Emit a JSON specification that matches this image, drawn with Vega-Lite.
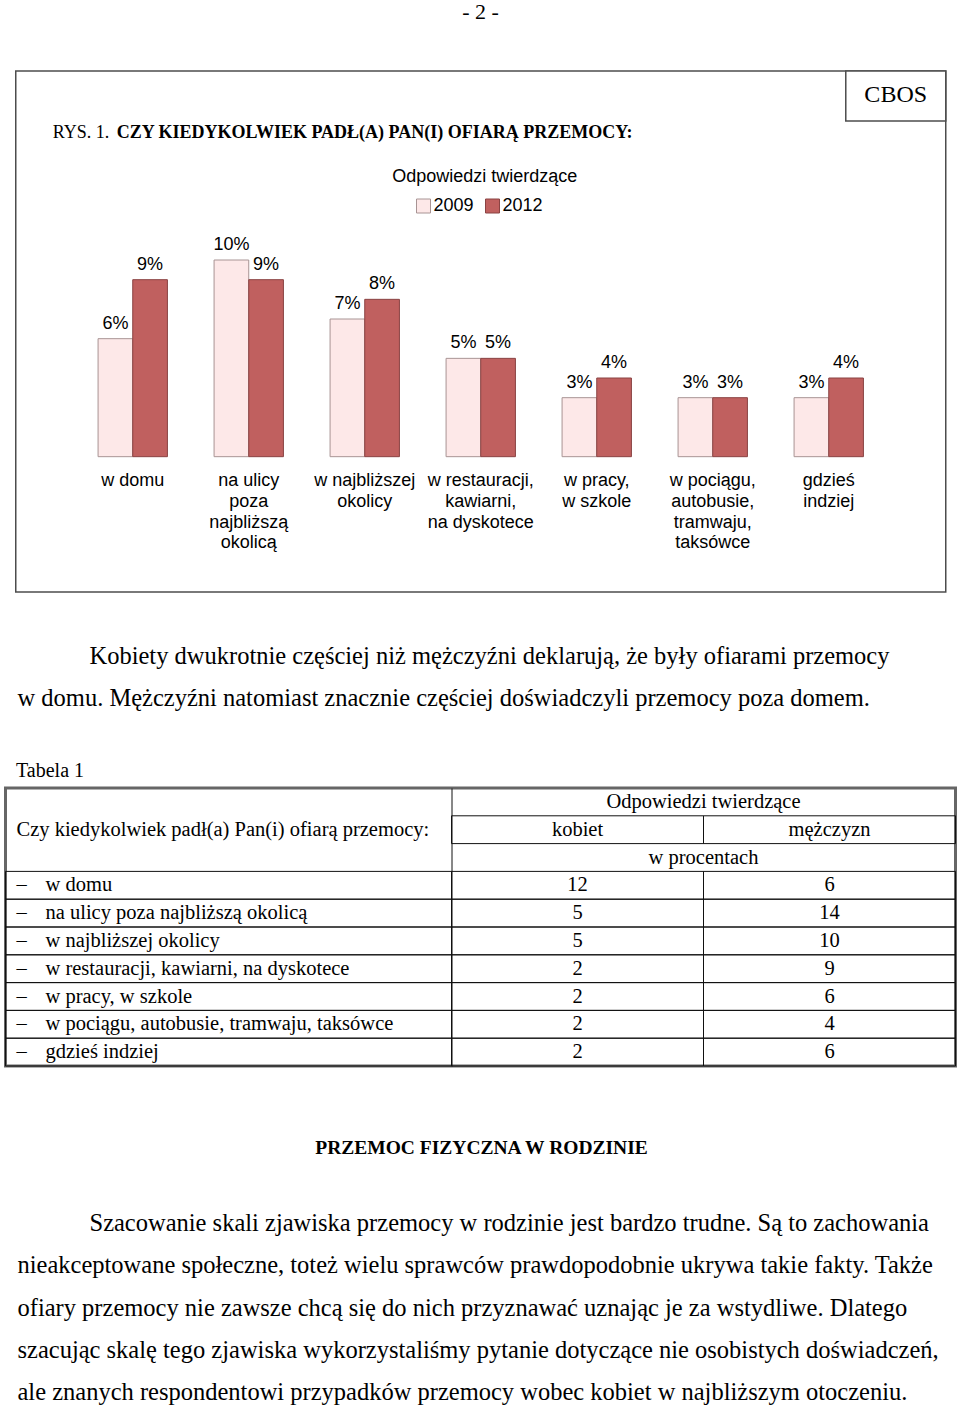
{
  "$schema": "https://vega.github.io/schema/vega-lite/v6.json",
  "background": "white",
  "padding": {"left": 3.5, "right": 3.5, "top": 0, "bottom": 0},
  "spacing": 0,
  "center": true,
  "title": {"text": "- 2 -", "font": "Liberation Serif", "fontSize": 22, "fontWeight": "normal", "anchor": "middle", "baseline": "top", "offset": 46, "color": "black"},
  "config": {
    "view": {"stroke": null},
    "text": {"color": "black"},
    "axis": {"labelColor": "black", "titleColor": "black"},
    "legend": {"labelColor": "black"},
    "title": {"color": "black"}
  },
  "datasets": {
    "rys": [
      {"miejsce": "w domu", "rok": "2009", "udzial": 0.06},
      {"miejsce": "w domu", "rok": "2012", "udzial": 0.09},
      {"miejsce": "na ulicy poza najbliższą okolicą", "rok": "2009", "udzial": 0.10},
      {"miejsce": "na ulicy poza najbliższą okolicą", "rok": "2012", "udzial": 0.09},
      {"miejsce": "w najbliższej okolicy", "rok": "2009", "udzial": 0.07},
      {"miejsce": "w najbliższej okolicy", "rok": "2012", "udzial": 0.08},
      {"miejsce": "w restauracji, kawiarni, na dyskotece", "rok": "2009", "udzial": 0.05},
      {"miejsce": "w restauracji, kawiarni, na dyskotece", "rok": "2012", "udzial": 0.05},
      {"miejsce": "w pracy, w szkole", "rok": "2009", "udzial": 0.03},
      {"miejsce": "w pracy, w szkole", "rok": "2012", "udzial": 0.04},
      {"miejsce": "w pociągu, autobusie, tramwaju, taksówce", "rok": "2009", "udzial": 0.03},
      {"miejsce": "w pociągu, autobusie, tramwaju, taksówce", "rok": "2012", "udzial": 0.03},
      {"miejsce": "gdzieś indziej", "rok": "2009", "udzial": 0.03},
      {"miejsce": "gdzieś indziej", "rok": "2012", "udzial": 0.04}
    ],
    "tabela": [
      {"miejsce": "w domu", "plec": "kobiet", "procent": 12},
      {"miejsce": "w domu", "plec": "mężczyzn", "procent": 6},
      {"miejsce": "na ulicy poza najbliższą okolicą", "plec": "kobiet", "procent": 5},
      {"miejsce": "na ulicy poza najbliższą okolicą", "plec": "mężczyzn", "procent": 14},
      {"miejsce": "w najbliższej okolicy", "plec": "kobiet", "procent": 5},
      {"miejsce": "w najbliższej okolicy", "plec": "mężczyzn", "procent": 10},
      {"miejsce": "w restauracji, kawiarni, na dyskotece", "plec": "kobiet", "procent": 2},
      {"miejsce": "w restauracji, kawiarni, na dyskotece", "plec": "mężczyzn", "procent": 9},
      {"miejsce": "w pracy, w szkole", "plec": "kobiet", "procent": 2},
      {"miejsce": "w pracy, w szkole", "plec": "mężczyzn", "procent": 6},
      {"miejsce": "w pociągu, autobusie, tramwaju, taksówce", "plec": "kobiet", "procent": 2},
      {"miejsce": "w pociągu, autobusie, tramwaju, taksówce", "plec": "mężczyzn", "procent": 4},
      {"miejsce": "gdzieś indziej", "plec": "kobiet", "procent": 2},
      {"miejsce": "gdzieś indziej", "plec": "mężczyzn", "procent": 6}
    ]
  },
  "vconcat": [
    {
      "width": 930,
      "height": 521,
      "view": {"stroke": "#4d4d4d", "strokeWidth": 1.5},
      "resolve": {"scale": {"x": "independent", "y": "independent"}, "axis": {"x": "independent", "y": "independent"}},
      "layer": [
        {
          "data": {"name": "rys"},
          "encoding": {
            "x": {
              "field": "miejsce", "type": "nominal", "sort": null,
              "scale": {"paddingInner": 0.402, "paddingOuter": 0.7096},
              "axis": {
                "orient": "bottom", "offset": -135.3, "title": null, "domain": false, "ticks": false, "grid": false,
                "labelAngle": 0, "labelPadding": 15, "labelFont": "Liberation Sans", "labelFontSize": 18,
                "labelLineHeight": 20.7, "labelLimit": 0, "labelBaseline": "top", "labelColor": "black",
                "labelExpr": "datum.label == 'na ulicy poza najbliższą okolicą' ? ['na ulicy', 'poza', 'najbliższą', 'okolicą'] : datum.label == 'w najbliższej okolicy' ? ['w najbliższej', 'okolicy'] : datum.label == 'w restauracji, kawiarni, na dyskotece' ? ['w restauracji,', 'kawiarni,', 'na dyskotece'] : datum.label == 'w pracy, w szkole' ? ['w pracy,', 'w szkole'] : datum.label == 'w pociągu, autobusie, tramwaju, taksówce' ? ['w pociągu,', 'autobusie,', 'tramwaju,', 'taksówce'] : datum.label == 'gdzieś indziej' ? ['gdzieś', 'indziej'] : datum.label"
              }
            },
            "xOffset": {"field": "rok", "type": "nominal", "scale": {"paddingInner": 0, "paddingOuter": 0}},
            "y": {"field": "udzial", "type": "quantitative", "stack": null, "scale": {"domain": [-0.0688, 0.1961], "nice": false}, "axis": null}
          },
          "layer": [
            {
              "mark": {"type": "bar", "strokeWidth": 1},
              "encoding": {
                "y2": {"datum": 0},
                "color": {
                  "field": "rok", "type": "nominal",
                  "scale": {"domain": ["2009", "2012"], "range": ["#fde8e8", "#c0605f"]},
                  "legend": {
                    "orient": "none", "legendX": 409, "legendY": 126, "direction": "horizontal", "title": null,
                    "symbolType": "square", "symbolSize": 196, "symbolStrokeColor": "#9a8a8a", "symbolStrokeWidth": 1,
                    "labelFont": "Liberation Sans", "labelFontSize": 18, "labelOffset": 1, "columnPadding": 9, "padding": 0
                  }
                },
                "stroke": {"field": "rok", "type": "nominal", "scale": {"domain": ["2009", "2012"], "range": ["#a89494", "#8a4343"]}, "legend": null}
              }
            },
            {
              "mark": {"type": "text", "font": "Liberation Sans", "fontSize": 18, "baseline": "alphabetic", "dy": -10, "color": "black"},
              "encoding": {"text": {"field": "udzial", "type": "quantitative", "format": ".0%"}}
            }
          ]
        },
        {
          "layer": [
            {
              "data": {"values": [{"tekst": "RYS. 1."}]},
              "mark": {"type": "text", "font": "Liberation Serif", "fontSize": 18, "align": "left", "baseline": "middle", "color": "black"},
              "encoding": {
                "x": {"datum": 0.0398, "type": "quantitative", "scale": {"domain": [0, 1], "nice": false, "zero": false}, "axis": null},
                "y": {"datum": 0.881, "type": "quantitative", "scale": {"domain": [0, 1], "nice": false, "zero": false}, "axis": null},
                "text": {"field": "tekst"}
              }
            },
            {
              "data": {"values": [{"tekst": "CZY KIEDYKOLWIEK PADŁ(A) PAN(I) OFIARĄ PRZEMOCY:"}]},
              "mark": {"type": "text", "font": "Liberation Serif", "fontSize": 18, "fontWeight": "bold", "align": "left", "baseline": "middle", "color": "black"},
              "encoding": {
                "x": {"datum": 0.1086, "type": "quantitative"},
                "y": {"datum": 0.881, "type": "quantitative"},
                "text": {"field": "tekst"}
              }
            },
            {
              "data": {"values": [{"tekst": "Odpowiedzi twierdzące"}]},
              "mark": {"type": "text", "font": "Liberation Sans", "fontSize": 18, "align": "center", "baseline": "middle", "color": "black"},
              "encoding": {
                "x": {"datum": 0.5043, "type": "quantitative"},
                "y": {"datum": 0.7965, "type": "quantitative"},
                "text": {"field": "tekst"}
              }
            },
            {
              "data": {"values": [{"tekst": "CBOS"}]},
              "mark": {"type": "rect", "fill": "white", "stroke": "#4d4d4d", "strokeWidth": 1.5},
              "encoding": {
                "x": {"datum": 0.8925, "type": "quantitative"},
                "x2": {"datum": 1},
                "y": {"datum": 0.904, "type": "quantitative"},
                "y2": {"datum": 1}
              }
            },
            {
              "data": {"values": [{"tekst": "CBOS"}]},
              "mark": {"type": "text", "font": "Liberation Serif", "fontSize": 24, "align": "center", "baseline": "middle", "color": "black"},
              "encoding": {
                "x": {"datum": 0.9462, "type": "quantitative"},
                "y": {"datum": 0.954, "type": "quantitative"},
                "text": {"field": "tekst"}
              }
            }
          ]
        }
      ]
    },
    {
      "width": 950,
      "height": 166,
      "data": {"values": [
        {"wiersz": 1, "tekst": "Kobiety dwukrotnie częściej niż mężczyźni deklarują, że były ofiarami przemocy"},
        {"wiersz": 2, "tekst": "w domu. Mężczyźni natomiast znacznie częściej doświadczyli przemocy poza domem."}
      ]},
      "encoding": {
        "x": {"datum": 0, "type": "quantitative", "scale": {"domain": [0, 1]}, "axis": null},
        "y": {"field": "wiersz", "type": "quantitative", "scale": {"domain": [-0.5298, 3.4226], "reverse": true, "nice": false, "zero": false}, "axis": null},
        "text": {"field": "tekst"}
      },
      "layer": [
        {"transform": [{"filter": "datum.wiersz == 1"}], "mark": {"type": "text", "align": "left", "baseline": "middle", "font": "Liberation Serif", "fontSize": 24.5, "dx": 83, "color": "black"}},
        {"transform": [{"filter": "datum.wiersz > 1"}], "mark": {"type": "text", "align": "left", "baseline": "middle", "font": "Liberation Serif", "fontSize": 24.5, "dx": 11, "color": "black"}}
      ]
    },
    {
      "spacing": 69,
      "center": true,
      "vconcat": [
        {
          "title": {"text": "Tabela 1", "anchor": "start", "dx": 11, "font": "Liberation Serif", "fontSize": 20, "fontWeight": "normal", "baseline": "top", "offset": 7, "color": "black"},
          "width": 950,
          "height": 278,
          "view": {"stroke": "#666666", "strokeWidth": 3},
          "encoding": {
            "y": {"field": "miejsce", "type": "nominal", "scale": {"domain": ["Odpowiedzi twierdzące", "płeć", "w procentach", "w domu", "na ulicy poza najbliższą okolicą", "w najbliższej okolicy", "w restauracji, kawiarni, na dyskotece", "w pracy, w szkole", "w pociągu, autobusie, tramwaju, taksówce", "gdzieś indziej"], "paddingInner": 0, "paddingOuter": 0}, "axis": null}
          },
          "resolve": {"scale": {"x": "independent"}, "axis": {"x": "independent"}},
          "layer": [
            {
              "layer": [
                {
                  "data": {"name": "tabela"},
                  "transform": [{"filter": "datum.plec == 'kobiet'"}],
                  "mark": {"type": "rect", "filled": false, "stroke": "#111111", "strokeWidth": 1},
                  "encoding": {
                    "x": {"datum": "pytanie", "type": "nominal", "scale": {"domain": ["pytanie"], "paddingInner": 0, "paddingOuter": 0.565, "align": 0},
                      "axis": {"orient": "bottom", "grid": true, "bandPosition": 1, "labels": false, "ticks": false, "domain": false, "title": null, "gridColor": "#111111", "gridWidth": 1, "gridOpacity": 1}}
                  }
                },
                {
                  "data": {"name": "tabela"},
                  "transform": [{"filter": "datum.plec == 'kobiet'"}],
                  "mark": {"type": "text", "align": "left", "baseline": "middle", "font": "Liberation Serif", "fontSize": 20.5, "dx": 11, "color": "black"},
                  "encoding": {"x": {"datum": "pytanie", "type": "nominal", "bandPosition": 0}, "text": {"value": "–"}}
                },
                {
                  "data": {"name": "tabela"},
                  "transform": [{"filter": "datum.plec == 'kobiet'"}],
                  "mark": {"type": "text", "align": "left", "baseline": "middle", "font": "Liberation Serif", "fontSize": 20.5, "dx": 40, "color": "black"},
                  "encoding": {"x": {"datum": "pytanie", "type": "nominal", "bandPosition": 0}, "text": {"field": "miejsce"}}
                },
                {
                  "data": {"values": [{"tekst": "Czy kiedykolwiek padł(a) Pan(i) ofiarą przemocy:"}]},
                  "mark": {"type": "text", "align": "left", "baseline": "middle", "font": "Liberation Serif", "fontSize": 20.5, "dx": 11, "color": "black"},
                  "encoding": {"x": {"datum": "pytanie", "type": "nominal", "bandPosition": 0}, "y": {"datum": "płeć", "type": "nominal"}, "text": {"field": "tekst"}}
                }
              ]
            },
            {
              "layer": [
                {
                  "data": {"name": "tabela"},
                  "mark": {"type": "rect", "filled": false, "stroke": "#111111", "strokeWidth": 1},
                  "encoding": {"x": {"field": "plec", "type": "nominal", "scale": {"domain": ["kobiet", "mężczyzn"], "paddingInner": 0, "paddingOuter": 0.885, "align": 1}, "axis": null}}
                },
                {
                  "data": {"name": "tabela"},
                  "mark": {"type": "text", "align": "center", "baseline": "middle", "font": "Liberation Serif", "fontSize": 20.5, "color": "black"},
                  "encoding": {"x": {"field": "plec", "type": "nominal"}, "text": {"field": "procent", "type": "quantitative"}}
                },
                {
                  "data": {"values": [{"miejsce": "płeć", "plec": "kobiet"}, {"miejsce": "płeć", "plec": "mężczyzn"}]},
                  "mark": {"type": "rect", "filled": false, "stroke": "#111111", "strokeWidth": 1},
                  "encoding": {"x": {"field": "plec", "type": "nominal"}}
                },
                {
                  "data": {"values": [{"miejsce": "płeć", "plec": "kobiet"}, {"miejsce": "płeć", "plec": "mężczyzn"}]},
                  "mark": {"type": "text", "align": "center", "baseline": "middle", "font": "Liberation Serif", "fontSize": 20.5, "color": "black"},
                  "encoding": {"x": {"field": "plec", "type": "nominal"}, "text": {"field": "plec"}}
                },
                {
                  "data": {"values": [{"miejsce": "Odpowiedzi twierdzące"}, {"miejsce": "w procentach"}]},
                  "mark": {"type": "text", "align": "center", "baseline": "middle", "font": "Liberation Serif", "fontSize": 20.5, "color": "black"},
                  "encoding": {"x": {"datum": "mężczyzn", "type": "nominal", "bandPosition": 0}, "text": {"field": "miejsce"}}
                }
              ]
            }
          ]
        },
        {
          "title": {"text": "PRZEMOC FIZYCZNA W RODZINIE", "anchor": "middle", "font": "Liberation Serif", "fontSize": 19.5, "fontWeight": "bold", "baseline": "top", "offset": 49, "color": "black"},
          "width": 950,
          "height": 203,
          "data": {"values": [
            {"wiersz": 1, "tekst": "Szacowanie skali zjawiska przemocy w rodzinie jest bardzo trudne. Są to zachowania"},
            {"wiersz": 2, "tekst": "nieakceptowane społeczne, toteż wielu sprawców prawdopodobnie ukrywa takie fakty. Także"},
            {"wiersz": 3, "tekst": "ofiary przemocy nie zawsze chcą się do nich przyznawać uznając je za wstydliwe. Dlatego"},
            {"wiersz": 4, "tekst": "szacując skalę tego zjawiska wykorzystaliśmy pytanie dotyczące nie osobistych doświadczeń,"},
            {"wiersz": 5, "tekst": "ale znanych respondentowi przypadków przemocy wobec kobiet w najbliższym otoczeniu."}
          ]},
          "encoding": {
            "x": {"datum": 0, "type": "quantitative", "scale": {"domain": [0, 1]}, "axis": null},
            "y": {"field": "wiersz", "type": "ordinal", "scale": {"type": "point", "padding": 0.402, "align": 0.5}, "axis": null},
            "text": {"field": "tekst"}
          },
          "layer": [
            {"transform": [{"filter": "datum.wiersz == 1"}], "mark": {"type": "text", "align": "left", "baseline": "middle", "font": "Liberation Serif", "fontSize": 24.5, "dx": 83, "color": "black"}},
            {"transform": [{"filter": "datum.wiersz > 1"}], "mark": {"type": "text", "align": "left", "baseline": "middle", "font": "Liberation Serif", "fontSize": 24.5, "dx": 11, "color": "black"}}
          ]
        }
      ]
    }
  ]
}
